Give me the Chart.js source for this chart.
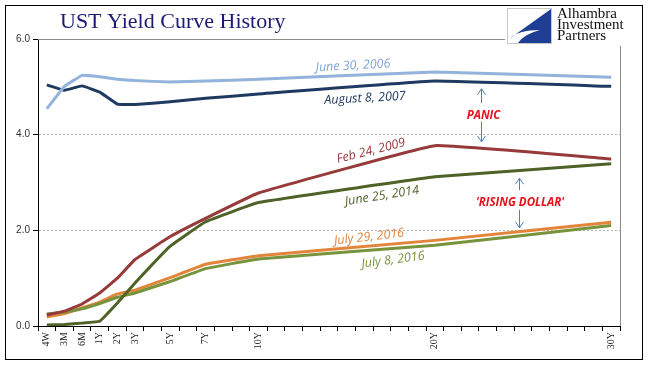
<!DOCTYPE html>
<html>
<head>
<meta charset="utf-8">
<script src="https://cdn.jsdelivr.net/npm/chart.js@4.4.1/dist/chart.umd.min.js"></script>
<style>
  html, body { margin: 0; padding: 0; background: #fff; }
  #wrap { position: relative; width: 652px; height: 381px; }
  canvas { display: block; }
</style>
</head>
<body>
<div id="wrap"><canvas id="c" width="652" height="381"></canvas></div>
<script>
// ---- data ----
const categories = ['4W','3M','6M','1Y','2Y','3Y','4Y','5Y','6Y','7Y','8Y','9Y','10Y',
  '11Y','12Y','13Y','14Y','15Y','16Y','17Y','18Y','19Y','20Y',
  '21Y','22Y','23Y','24Y','25Y','26Y','27Y','28Y','29Y','30Y'];
const shownTickLabels = ['4W','3M','6M','1Y','2Y','3Y','5Y','7Y','10Y','20Y','30Y'];
const maturities = ['4W','3M','6M','1Y','2Y','3Y','5Y','7Y','10Y','20Y','30Y'];

const jun30_2006 = [4.54, 5.01, 5.24, 5.21, 5.16, 5.13, 5.10, 5.12, 5.16, 5.31, 5.20];
const aug08_2007 = [5.04, 4.93, 5.02, 4.89, 4.64, 4.63, 4.69, 4.76, 4.85, 5.12, 5.01];
const feb24_2009 = [0.23, 0.31, 0.46, 0.69, 1.00, 1.39, 1.87, 2.25, 2.78, 3.77, 3.49];
const jun25_2014 = [0.02, 0.03, 0.06, 0.10, 0.48, 0.90, 1.67, 2.18, 2.58, 3.12, 3.39];
const jul29_2016 = [0.19, 0.26, 0.38, 0.50, 0.67, 0.75, 1.01, 1.29, 1.47, 1.79, 2.17];
const jul08_2016 = [0.25, 0.29, 0.36, 0.47, 0.60, 0.69, 0.93, 1.20, 1.40, 1.69, 2.10];

const yTicks = [0, 2, 4, 6];

function toCat(vals) {
  return categories.map(c => {
    const i = maturities.indexOf(c);
    return i >= 0 ? vals[i] : null;
  });
}

const seriesDefs = [
  { label: 'June 30, 2006', data: jun30_2006, color: '#93B3DD' },
  { label: 'August 8, 2007', data: aug08_2007, color: '#1F3A60' },
  { label: 'Feb 24, 2009', data: feb24_2009, color: '#963A3A' },
  { label: 'June 25, 2014', data: jun25_2014, color: '#4F6228' },
  { label: 'July 8, 2016', data: jul08_2016, color: '#77933C' },
  { label: 'July 29, 2016', data: jul29_2016, color: '#E3843A' }
];

const annFont = 'italic 12.5px "Open Sans", "Noto Sans", sans-serif';
const boldFont = 'italic bold 11.5px "Open Sans", "Noto Sans", sans-serif';
// annotations in data units: x = category index, y = yield
const labels = [
  { text: 'June 30, 2006', x: 17.36, y: 5.44, rot: -3, color: '#7FA4D6', font: annFont },
  { text: 'August 8, 2007', x: 18.04, y: 4.76, rot: -3, color: '#1F3A60', font: annFont },
  { text: 'PANIC', x: 24.76, y: 4.40, rot: 0, color: '#E8101A', font: boldFont },
  { text: 'Feb 24, 2009', x: 18.38, y: 3.66, rot: -14, color: '#963A3A', font: annFont },
  { text: 'June 25, 2014', x: 19.0, y: 2.72, rot: -9, color: '#4F6228', font: annFont },
  { text: "'RISING DOLLAR'", x: 26.83, y: 2.58, rot: 0, color: '#E8101A', font: boldFont },
  { text: 'July 29, 2016', x: 18.27, y: 1.86, rot: -6.5, color: '#E3843A', font: annFont },
  { text: 'July 8, 2016', x: 19.63, y: 1.38, rot: -7.5, color: '#77933C', font: annFont }
];
const arrows = [
  { x: 24.62, y1: 4.66, y2: 4.96 },
  { x: 24.62, y1: 4.27, y2: 3.85 },
  { x: 26.77, y1: 2.84, y2: 3.09 },
  { x: 26.77, y1: 2.43, y2: 2.05 }
];

const decor = {
  id: 'decor',
  beforeDatasetsDraw(chart) {
    const { ctx, chartArea: a } = chart;
    ctx.save();
    ctx.strokeStyle = '#8c8c8c';
    ctx.lineWidth = 1;
    ctx.beginPath();
    ctx.moveTo(a.left, Math.round(a.top) + 0.5);
    ctx.lineTo(a.right, Math.round(a.top) + 0.5);
    ctx.moveTo(Math.round(a.right) + 0.5, a.top - 7);
    ctx.lineTo(Math.round(a.right) + 0.5, a.bottom);
    ctx.stroke();
    ctx.restore();
  },
  afterDraw(chart) {
    const { ctx } = chart;
    const xs = chart.scales.x, ys = chart.scales.y;
    ctx.save();
    // outer frame
    ctx.strokeStyle = '#000';
    ctx.lineWidth = 1;
    ctx.strokeRect(5.5, 5.5, 637, 354);
    // title
    ctx.fillStyle = '#1B1B73';
    ctx.font = '22px "Liberation Serif", "DejaVu Serif", serif';
    ctx.textAlign = 'left';
    ctx.textBaseline = 'alphabetic';
    ctx.fillText('UST Yield Curve History', 60, 28);
    // logo box
    ctx.fillStyle = '#fff';
    ctx.fillRect(505, 6, 136, 40);
    ctx.strokeStyle = '#c8c8c8';
    ctx.strokeRect(507.5, 8.5, 44, 35);
    ctx.fillStyle = '#1E3F94';
    ctx.beginPath();
    ctx.moveTo(551, 9);
    ctx.lineTo(509, 39);
    ctx.quadraticCurveTo(518, 30, 540, 30);
    ctx.quadraticCurveTo(524, 34, 518, 43);
    ctx.lineTo(551, 43);
    ctx.closePath();
    ctx.fill();
    ctx.fillStyle = '#111';
    ctx.font = '15px "Liberation Serif", "DejaVu Serif", serif';
    ctx.fillText('Alhambra', 557, 18);
    ctx.fillText('Investment', 557, 29);
    ctx.fillText('Partners', 557, 40);
    // annotations
    labels.forEach(l => {
      const px = xs.getPixelForValue(l.x), py = ys.getPixelForValue(l.y);
      ctx.save();
      ctx.translate(px, py);
      ctx.rotate(l.rot * Math.PI / 180);
      ctx.font = l.font;
      ctx.fillStyle = l.color;
      ctx.textAlign = 'center';
      ctx.textBaseline = 'middle';
      ctx.fillText(l.text, 0, 0);
      ctx.restore();
    });
    // arrows
    ctx.strokeStyle = '#4F81BD';
    ctx.lineWidth = 1;
    arrows.forEach(ar => {
      const px = Math.round(xs.getPixelForValue(ar.x)) + 0.5;
      const p1 = ys.getPixelForValue(ar.y1), p2 = ys.getPixelForValue(ar.y2);
      const dir = p2 < p1 ? 1 : -1;
      ctx.beginPath();
      ctx.moveTo(px, p1);
      ctx.lineTo(px, p2);
      ctx.moveTo(px - 4, p2 + dir * 6);
      ctx.lineTo(px, p2);
      ctx.lineTo(px + 4, p2 + dir * 6);
      ctx.stroke();
    });
    ctx.restore();
  }
};

new Chart(document.getElementById('c'), {
  type: 'line',
  data: {
    labels: categories,
    datasets: seriesDefs.map(s => ({
      label: s.label,
      data: toCat(s.data),
      borderColor: s.color,
      backgroundColor: s.color,
      borderWidth: 3,
      pointRadius: 0,
      tension: 0.07,
      spanGaps: true,
      fill: false
    }))
  },
  options: {
    responsive: false,
    animation: false,
    devicePixelRatio: 1,
    layout: { padding: { top: 39, left: 5, right: 32, bottom: 22 } },
    plugins: { legend: { display: false }, tooltip: { enabled: false }, title: { display: false } },
    scales: {
      x: {
        type: 'category',
        offset: true,
        grid: { display: true, drawOnChartArea: false, offset: true, tickLength: 5, tickColor: '#000', color: '#000' },
        border: { display: true, color: '#000', width: 1 },
        ticks: {
          autoSkip: false,
          minRotation: 90, maxRotation: 90,
          padding: 1,
          color: '#222',
          font: { family: '"Liberation Serif", serif', size: 10 },
          callback: function (v) {
            const lab = categories[v];
            return shownTickLabels.includes(lab) ? lab : '';
          }
        },
        afterFit(scale) { scale.height = 33; }
      },
      y: {
        min: 0, max: 6,
        afterBuildTicks(scale) { scale.ticks = yTicks.map(v => ({ value: v })); },
        grid: {
          color: ctx => (ctx.tick && (ctx.tick.value === 2 || ctx.tick.value === 4)) ? '#b4b4b4' : 'rgba(0,0,0,0)',
          tickColor: '#000', tickLength: 5, lineWidth: 1
        },
        border: { display: true, color: '#000', width: 1, dash: [2, 2] },
        ticks: {
          padding: 3,
          color: '#333',
          font: { family: '"Liberation Sans", Arial, sans-serif', size: 10 },
          callback: v => Number(v).toFixed(1)
        },
        afterFit(scale) { scale.width = 33; }
      }
    }
  },
  plugins: [decor]
});
</script>
</body>
</html>
